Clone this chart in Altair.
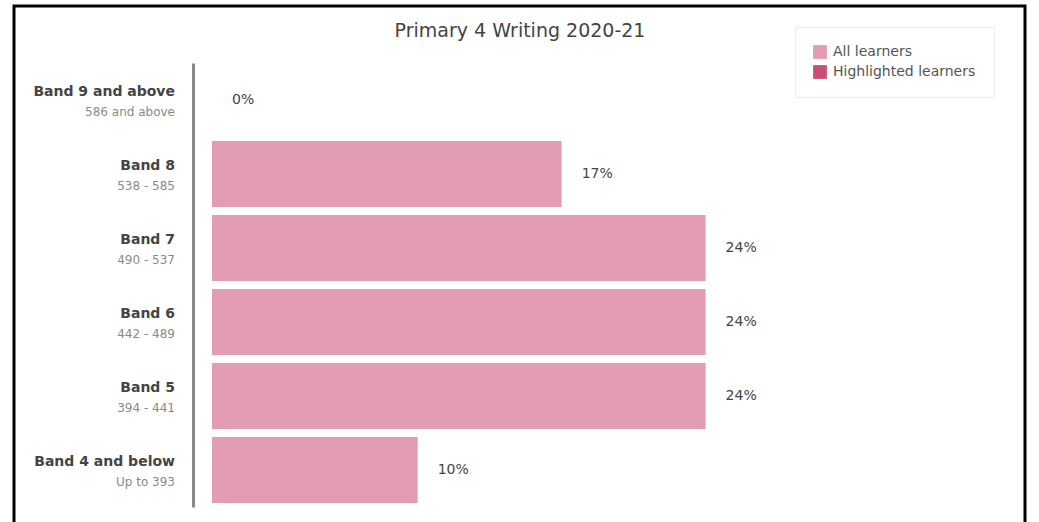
import altair as alt
import pandas as pd

title_text = "Primary 4 Writing 2020-21"
bands = ["Band 9 and above", "Band 8", "Band 7", "Band 6", "Band 5", "Band 4 and below"]
ranges = ["586 and above", "538 - 585", "490 - 537", "442 - 489", "394 - 441", "Up to 393"]
values = [0, 17, 24, 24, 24, 10]
labels = ["0%", "17%", "24%", "24%", "24%", "10%"]
series = ["All learners"] * 6
legend_domain = ["All learners", "Highlighted learners"]
legend_colors = ["#e39db3", "#cc4d78"]

df = pd.DataFrame({"band": bands, "range": ranges, "value": values,
                   "label": labels, "series": series})

FONT = "DejaVu Sans"
W, H = 617, 444

y_enc = alt.Y("band:N", sort=bands,
              scale=alt.Scale(paddingInner=0.108, paddingOuter=0.054),
              axis=alt.Axis(labels=False, ticks=False, title=None, domain=True,
                            domainColor="#8a8a8a", domainWidth=3, offset=19))

bars = alt.Chart(df).mark_bar().encode(
    x=alt.X("value:Q", scale=alt.Scale(domain=[0, 30]), axis=None),
    y=y_enc,
    color=alt.Color("series:N",
                    scale=alt.Scale(domain=legend_domain, range=legend_colors),
                    legend=alt.Legend(title=None, orient="none", legendX=583, legendY=-36,
                                      padding=18, symbolType="square", symbolSize=190,
                                      symbolStrokeWidth=0, labelFontSize=14,
                                      labelColor="#555555", labelFont=FONT,
                                      rowPadding=6, strokeColor="#ececec",
                                      fillColor="white", labelLimit=300,
                                      symbolOpacity=1, labelOffset=6)),
)

vals = alt.Chart(df).mark_text(align="left", baseline="middle", dx=20,
                               fontSize=14, color="#444444", font=FONT).encode(
    x=alt.X("value:Q"),
    y=alt.Y("band:N", sort=bands),
    text="label:N",
)

band_txt = alt.Chart(df).mark_text(align="right", baseline="middle", dy=-8,
                                   fontSize=14, fontWeight="bold", color="#444444",
                                   font=FONT).encode(
    x=alt.value(-37),
    y=alt.Y("band:N", sort=bands),
    text="band:N",
)

range_txt = alt.Chart(df).mark_text(align="right", baseline="middle", dy=12,
                                    fontSize=12, color="#8a8a8a", font=FONT).encode(
    x=alt.value(-37),
    y=alt.Y("band:N", sort=bands),
    text="range:N",
)

title_mark = alt.Chart(pd.DataFrame({"t": [title_text]})).mark_text(
    align="center", baseline="middle", fontSize=19, color="#444444", font=FONT).encode(
    x=alt.value(308), y=alt.value(-32), text="t:N",
)

frame = alt.Chart(pd.DataFrame({"f": [0]})).mark_rect(
    fill="transparent", stroke="black", strokeWidth=3).encode(
    x=alt.value(-198), x2=alt.value(813), y=alt.value(-57), y2=alt.value(480),
)

chart = alt.layer(frame, bars, vals, band_txt, range_txt, title_mark).properties(
    width=W, height=H,
    background="white",
    autosize=alt.AutoSizeParams(type="none"),
    padding={"left": 212, "top": 63, "right": 210, "bottom": 15},
).configure_view(strokeWidth=0, stroke="transparent")

chart.save("out.html", embed_options={"renderer": "svg", "actions": False})
